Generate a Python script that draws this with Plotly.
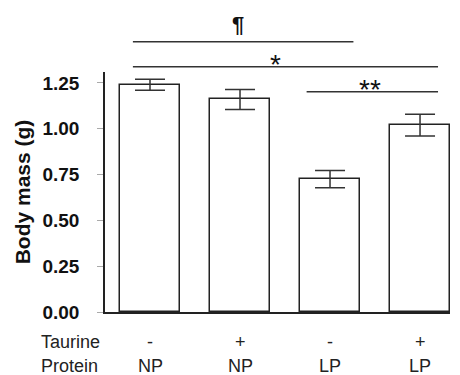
import plotly.graph_objects as go

# ---- data ----
protein = ["NP", "NP", "LP", "LP"]
taurine = ["-", "+", "-", "+"]
means = [1.24, 1.16, 0.725, 1.02]
errors = [0.03, 0.055, 0.047, 0.06]
ytick_vals = [0.0, 0.25, 0.5, 0.75, 1.0, 1.25]

# significance brackets: (x start, x end, y level, label, label x)
sig_x0 = [-0.19, -0.19, 1.74]
sig_x1 = [2.26, 3.2, 3.2]
sig_y = [1.475, 1.339, 1.202]
sig_label = ["¶", "*", "**"]
sig_label_x = [0.98, 1.39, 2.44]

YMAX = 1.31
XR = [-0.5, 3.333]
FONT = "Liberation Sans, Arial, sans-serif"
xs = list(range(len(means)))

fig = go.Figure()
fig.add_trace(go.Bar(
    x=xs, y=means, width=0.667,
    marker=dict(color="white", line=dict(color="#222", width=1.5)),
    error_y=dict(type="data", array=errors, visible=True,
                 color="#333", thickness=1.5, width=15),
    showlegend=False,
))

shapes = []
annotations = []
for x0, x1, y, lab, lx in zip(sig_x0, sig_x1, sig_y, sig_label, sig_label_x):
    yp = y / YMAX
    shapes.append(dict(type="line", xref="x", yref="paper",
                       x0=x0, x1=x1, y0=yp, y1=yp,
                       line=dict(color="#333", width=1.5)))
    if lab == "¶":
        f = dict(family=FONT, size=22, color="#111", weight="bold")
        ys = 3
    else:
        f = dict(family=FONT, size=28, color="#111")
        ys = -15
    annotations.append(dict(x=lx, y=yp, xref="x", yref="paper",
                            text=lab, showarrow=False,
                            xanchor="center", yanchor="bottom",
                            yshift=ys, font=f))

# category rows under the axis
for i, (t, p) in enumerate(zip(taurine, protein)):
    annotations.append(dict(x=i, y=-0.125, xref="x", yref="paper", text=t,
                            showarrow=False, xanchor="center", yanchor="middle",
                            font=dict(family=FONT, size=18, color="#222")))
    annotations.append(dict(x=i, y=-0.225, xref="x", yref="paper", text=p,
                            showarrow=False, xanchor="center", yanchor="middle",
                            font=dict(family=FONT, size=18, color="#222")))
for lab, yy in [("Taurine", -0.125), ("Protein", -0.225)]:
    annotations.append(dict(x=-0.191, y=yy, xref="paper", yref="paper", text=lab,
                            showarrow=False, xanchor="left", yanchor="middle",
                            font=dict(family=FONT, size=18, color="#222")))

fig.update_layout(
    width=460, height=375,
    margin=dict(l=105, r=10, t=72, b=63),
    paper_bgcolor="white", plot_bgcolor="white",
    shapes=shapes, annotations=annotations,
    xaxis=dict(range=XR, showticklabels=False, ticks="", showgrid=False,
               zeroline=False, showline=True, linecolor="#222", linewidth=1.5),
    yaxis=dict(range=[0, YMAX], tickvals=ytick_vals, tickformat=".2f",
               ticks="outside", ticklen=6, tickcolor="#aaa", tickwidth=1,
               showgrid=False, zeroline=False, showline=True,
               linecolor="#222", linewidth=1.5, ticklabelstandoff=14,
               tickfont=dict(family=FONT, size=19, color="#111", weight="bold"),
               title=dict(text="Body mass (g)", standoff=6,
                          font=dict(family=FONT, size=21, color="#111", weight="bold"))),
    bargap=0,
)

fig.write_html("out.html", config={"displayModeBar": False},
               post_script="document.body.style.margin='0';")
